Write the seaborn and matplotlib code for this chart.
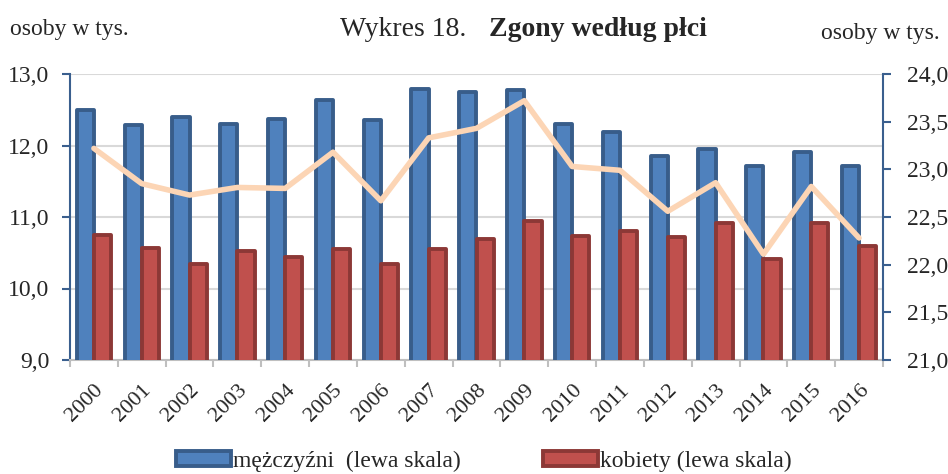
import numpy as np
import pandas as pd
import matplotlib
matplotlib.use('Agg')
import matplotlib.pyplot as plt
import seaborn as sns
from matplotlib.patches import Patch
from matplotlib.ticker import FuncFormatter, FixedLocator

years = [str(y) for y in range(2000, 2017)]
men = [12.50, 12.29, 12.40, 12.30, 12.37, 12.64, 12.36, 12.79, 12.75, 12.78,
       12.30, 12.19, 11.85, 11.95, 11.71, 11.91, 11.71]
women = [10.75, 10.57, 10.34, 10.52, 10.44, 10.55, 10.34, 10.55, 10.69, 10.94,
         10.73, 10.80, 10.72, 10.92, 10.41, 10.92, 10.59]
total = [23.22, 22.85, 22.73, 22.81, 22.80, 23.18, 22.67, 23.33, 23.43, 23.72,
         23.03, 22.99, 22.56, 22.86, 22.11, 22.82, 22.28]

lab_men = 'mężczyźni  (lewa skala)'
lab_women = 'kobiety (lewa skala)'

df = pd.DataFrame({'rok': years * 2,
                   'wartosc': men + women,
                   'plec': [lab_men] * len(years) + [lab_women] * len(years)})

blue_face, blue_edge = '#4F81BD', '#385D8A'
red_face, red_edge = '#C0504D', '#8C3836'
line_col = '#FCD5B5'
axis_blue = '#3A5F8E'

sns.set_style('white')
plt.rcParams['font.family'] = ['Liberation Serif', 'DejaVu Serif']

fig = plt.figure(figsize=(9.48, 4.74), dpi=100)
ax = fig.add_axes([70 / 948, 1 - 360 / 474, 813 / 948, 286 / 474])

sns.barplot(data=df, x='rok', y='wartosc', hue='plec', ax=ax,
            palette=[blue_face, red_face], width=0.72, gap=0, legend=False,
            saturation=1, zorder=3)
for cont, ec in zip(ax.containers, [blue_edge, red_edge]):
    for p in cont:
        p.set_edgecolor(ec)
        p.set_linewidth(2.8)
        p.set_joinstyle('round')

fmt = FuncFormatter(lambda v, p: f'{v:.1f}'.replace('.', ','))

ax.set_ylim(9, 13)
ax.set_xlim(-0.5, len(years) - 0.5)
ax.set_yticks([9, 10, 11, 12, 13])
ax.yaxis.set_major_formatter(fmt)
ax.grid(axis='y', color='#D9D9D9', linewidth=1.5, zorder=0)
ax.set_axisbelow(True)
ax.set_xlabel('')
ax.set_ylabel('')

ax.set_xticks(range(len(years)))
ax.set_xticklabels(years, rotation=45, ha='right', rotation_mode='anchor', fontsize=16)
ax.tick_params(axis='x', which='major', length=0, pad=15)
ax.xaxis.set_minor_locator(FixedLocator(np.arange(-0.5, len(years), 1.0)))
ax.tick_params(axis='x', which='minor', length=5, width=1.5, color='#BFBFBF', bottom=True)
ax.tick_params(axis='y', length=6, width=1.5, color=axis_blue, labelsize=17, left=True, pad=9)

for s in ['top', 'right']:
    ax.spines[s].set_visible(False)
ax.spines['bottom'].set_color('#BFBFBF')
ax.spines['bottom'].set_linewidth(1.5)
ax.spines['left'].set_color(axis_blue)
ax.spines['left'].set_linewidth(1.5)

ax2 = ax.twinx()
sns.lineplot(x=np.arange(len(years)), y=total, ax=ax2, color=line_col,
             linewidth=4, zorder=5)
ax2.set_ylim(21, 24)
ax2.set_yticks(np.arange(21, 24.01, 0.5))
ax2.yaxis.set_major_formatter(fmt)
ax2.tick_params(axis='y', length=6, width=1.5, color=axis_blue, labelsize=17, right=True, pad=11)
for s in ['top', 'left', 'bottom']:
    ax2.spines[s].set_visible(False)
ax2.spines['right'].set_color(axis_blue)
ax2.spines['right'].set_linewidth(1.5)
ax2.set_ylabel('')

fig.text(466 / 948, 1 - 36 / 474, 'Wykres 18.', ha='right', va='baseline', fontsize=20)
fig.text(489 / 948, 1 - 36 / 474, 'Zgony według płci', ha='left', va='baseline',
         fontsize=20, fontweight='bold')
fig.text(10 / 948, 1 - 30 / 474, 'osoby w tys.', ha='left', va='center', fontsize=17)
fig.text(940 / 948, 1 - 33 / 474, 'osoby w tys.', ha='right', va='center', fontsize=17)

handles = [Patch(facecolor=blue_face, edgecolor=blue_edge, linewidth=2.8, label=lab_men),
           Patch(facecolor=red_face, edgecolor=red_edge, linewidth=2.8, label=lab_women)]
fig.legend(handles=handles, loc='center', bbox_to_anchor=(484 / 948, 1 - 461 / 474),
           ncol=2, frameon=False, fontsize=17, handlelength=2.3, handleheight=0.6,
           handletextpad=0.1, columnspacing=3.5)

fig.savefig('out.png', dpi=100)
